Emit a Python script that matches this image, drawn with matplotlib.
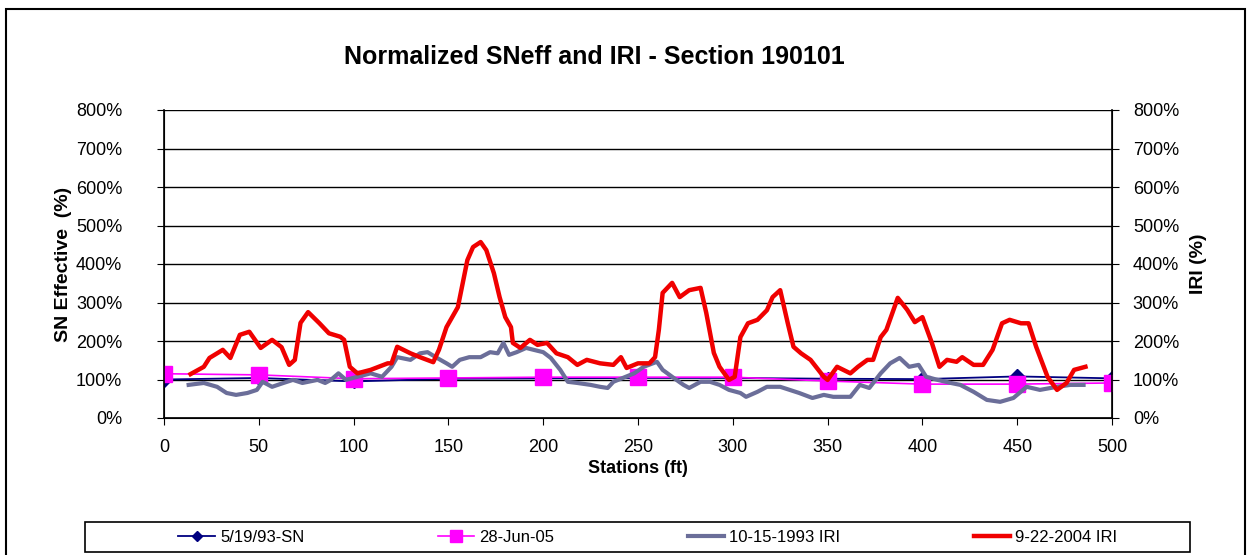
#!/usr/bin/env python3
"""
Normalized SNeff and IRI chart for section 190101.
"""
import matplotlib
matplotlib.use("Agg")
import matplotlib.pyplot as plt
from matplotlib.patches import Rectangle
from matplotlib.ticker import FuncFormatter

plt.rcParams['font.family'] = ['Liberation Sans', 'DejaVu Sans']

# Data
sn_stations = [0, 50, 100, 150, 200, 250, 300, 350, 400, 450, 500]
sn_1993 = [100, 104, 95, 102, 103, 104, 104, 102, 101, 108, 103]

sn_2005 = [115, 112, 102, 104, 106, 106, 106, 96, 88, 88, 91]

iri_1993_x = [13, 21, 28, 33, 38, 44, 49, 52, 57, 63, 68, 73, 81, 85, 88, 92, 96, 102,
              109, 115, 120, 123, 130, 135, 139, 144, 149, 152, 156, 161, 167, 172, 176,
              179, 182, 186, 191, 195, 200, 204, 209, 213, 218, 225, 230, 234, 237, 242,
              248, 253, 260, 263, 268, 274, 277, 283, 288, 293, 298, 304, 307, 313, 318,
              325, 330, 335, 342, 348, 353, 362, 367, 372, 378, 383, 388, 393, 398, 402,
              408, 415, 420, 427, 434, 441, 448, 455, 462, 471, 478, 485]
iri_1993_y = [86, 91, 81, 65, 60, 65, 73, 94, 81, 91, 99, 91, 99, 91, 99, 116, 99, 107,
              116, 107, 133, 158, 151, 168, 171, 156, 142, 133, 151, 158, 158, 171, 168,
              195, 164, 171, 182, 177, 171, 156, 125, 94, 91, 86, 81, 78, 94, 104,
              116, 133, 146, 125, 107, 86, 78, 94, 94, 86, 73, 65, 55, 68, 81,
              81, 73, 65, 52, 60, 55, 55, 86, 78, 116, 142, 156, 133, 138, 107,
              99, 91, 86, 68, 47, 42, 52, 81, 73, 81, 86, 86]

iri_2004_x = [14, 21, 24, 31, 35, 40, 45, 51, 57, 62, 66, 69, 72, 76, 82, 87, 93, 95,
              98, 102, 109, 118, 120, 123, 130, 135, 142, 145, 149, 155, 160, 163, 167,
              170, 174, 177, 180, 183, 184, 188, 193, 197, 202, 207, 213, 218, 223, 230,
              237, 241, 244, 250, 256, 259, 261, 263, 268, 272, 277, 283, 286, 290, 293,
              298, 301, 304, 308, 313, 318, 321, 325, 329, 332, 336, 341, 348, 350, 355,
              362, 366, 371, 374, 378, 381, 387, 392, 396, 400, 405, 409, 413, 418, 421,
              427, 432, 437, 442, 446, 452, 456, 460, 466, 471, 476, 480, 486]
iri_2004_y = [114, 133, 156, 177, 156, 216, 224, 182, 203, 184, 138, 151, 247, 275, 246,
              220, 211, 203, 133, 116, 125, 142, 142, 185, 168, 158, 145, 177, 236, 288,
              410, 444, 457, 436, 376, 314, 262, 236, 195, 182, 203, 190, 195, 168, 158,
              138, 151, 142, 138, 158, 130, 142, 142, 158, 229, 325, 351, 314, 332, 338,
              273, 169, 133, 99, 107, 210, 246, 255, 280, 314, 332, 246, 185, 168, 151,
              107, 99, 133, 116, 133, 151, 151, 210, 229, 312, 281, 249, 262, 195, 133,
              151, 146, 158, 138, 138, 177, 246, 255, 246, 246, 185, 107, 73, 91, 125,
              133]

x_ticks = [0, 50, 100, 150, 200, 250, 300, 350, 400, 450, 500]
y_ticks = [0, 100, 200, 300, 400, 500, 600, 700, 800]

fig = plt.figure(figsize=(12.52, 5.55), dpi=100)
ax = fig.add_axes([164 / 1252, 1 - 418 / 555, (1112 - 164) / 1252, (418 - 110) / 555])
ax2 = ax.twinx()

# Chart area border
fig.patches.append(Rectangle((6 / 1252, -0.01), 1239 / 1252, 1 - 9 / 555 + 0.01,
                             transform=fig.transFigure, fill=False,
                             edgecolor='black', linewidth=1.5))

l1, = ax.plot(sn_stations, sn_1993, color='#000080', linewidth=1.3, marker='D',
              markersize=7, label='5/19/93-SN', zorder=3)
l2, = ax.plot(sn_stations, sn_2005, color='#FF00FF', linewidth=1.2, marker='s',
              markersize=11, label='28-Jun-05', zorder=4)
l3, = ax2.plot(iri_1993_x, iri_1993_y, color='#6B6E99', linewidth=3.0,
               label='10-15-1993 IRI', zorder=5)
l4, = ax2.plot(iri_2004_x, iri_2004_y, color='#F00000', linewidth=3.2,
               label='9-22-2004 IRI', zorder=6)

pct = FuncFormatter(lambda v, p: f"{int(v)}%")
for a in (ax, ax2):
    a.set_ylim(0, 800)
    a.set_yticks(y_ticks)
    a.yaxis.set_major_formatter(pct)
    a.tick_params(axis='y', labelsize=13, length=5, direction='out')
ax.set_xlim(0, 500)
ax.set_xticks(x_ticks)
ax.tick_params(axis='x', labelsize=13, length=5, direction='out', pad=10)
ax.tick_params(axis='y', pad=25)
ax2.tick_params(axis='y', pad=10)

ax.grid(axis='y', color='black', linewidth=1.0)
ax.set_axisbelow(True)
ax.spines['top'].set_visible(False)
ax2.spines['top'].set_visible(False)
for s in ('left', 'right', 'bottom'):
    ax2.spines[s].set_linewidth(1.2)

ax.set_xlabel('Stations (ft)', fontsize=13, fontweight='bold', labelpad=3)
ax.set_ylabel('SN Effective  (%)', fontsize=14, fontweight='bold', labelpad=3)
ax2.set_ylabel('IRI (%)', fontsize=14, fontweight='bold', labelpad=8)

fig.text(594 / 1252, 1 - 57 / 555, 'Normalized SNeff and IRI - Section 190101',
         ha='center', va='center', fontsize=18, fontweight='bold')

# Legend frame drawn separately so the entries can sit where they do in the reference
fig.patches.append(Rectangle((85 / 1252, 3 / 555), 1105 / 1252, 30 / 555,
                             transform=fig.transFigure, fill=False,
                             edgecolor='black', linewidth=1.2))
leg = fig.legend(handles=[l1, l2, l3, l4], loc='center', ncol=4,
                 bbox_to_anchor=(648 / 1252, 18 / 555),
                 fontsize=12, frameon=False, handlelength=2.2, handletextpad=0.3,
                 columnspacing=8.0, markerscale=0.75, borderaxespad=0)

fig.savefig('out.png', dpi=100)
